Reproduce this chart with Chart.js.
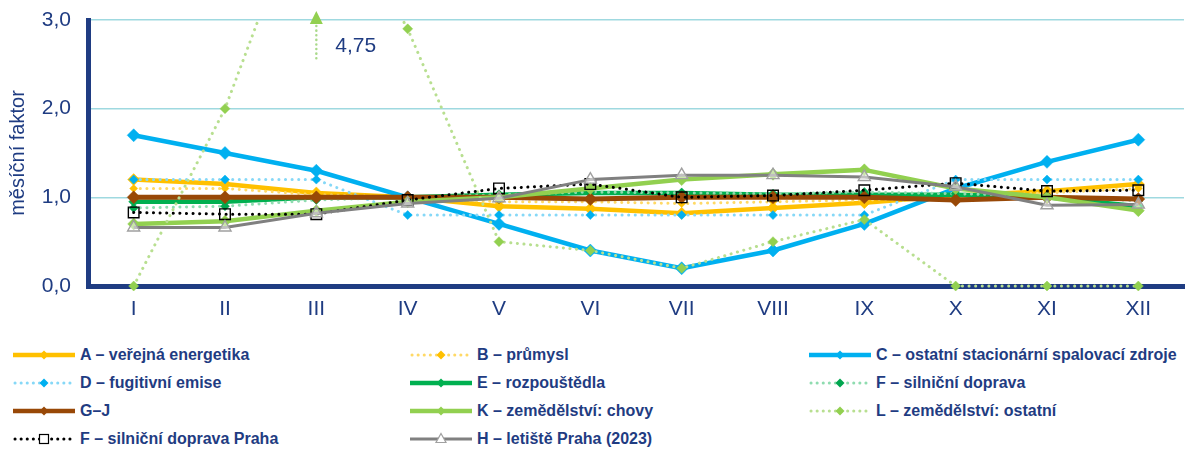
<!DOCTYPE html>
<html>
<head>
<meta charset="utf-8">
<script src="https://cdn.jsdelivr.net/npm/chart.js@4.4.1/dist/chart.umd.min.js"></script>
<style>
  body { margin: 0; background: #fff; font-family: "Liberation Sans", Arial, sans-serif; }
  #wrap { position: relative; width: 1195px; height: 454px; overflow: hidden; }
  #chartBox { position: absolute; left: 0; top: 0; width: 1195px; height: 325px; }
  #legend { position: absolute; left: 0; top: 341px; width: 1195px; height: 113px; }
  .item { position: absolute; height: 28px; display: flex; align-items: center;
          font-weight: bold; font-size: 16px; color: #1f3c82; white-space: nowrap; }
  .item svg { margin-right: 5px; flex: none; }
</style>
</head>
<body>
<div id="wrap">
  <div id="chartBox"><canvas id="monthChart"></canvas></div>
  <div id="legend"></div>
</div>
<script>
// kategorie (měsíce) a osa Y
const months = ['I', 'II', 'III', 'IV', 'V', 'VI', 'VII', 'VIII', 'IX', 'X', 'XI', 'XII'];
const yTicks = [0, 1, 2, 3];

// měsíční faktory jednotlivých sektorů
const seriesA  = [1.20, 1.15, 1.05, 1.00, 0.90, 0.87, 0.82, 0.88, 0.94, 1.02, 1.07, 1.15];
const seriesB  = [1.10, 1.10, 1.03, 1.00, 0.95, 0.95, 0.93, 0.95, 0.97, 1.00, 1.05, 1.10];
const seriesC  = [1.70, 1.50, 1.30, 1.00, 0.70, 0.40, 0.20, 0.40, 0.70, 1.10, 1.40, 1.65];
const seriesD  = [1.20, 1.20, 1.20, 0.80, 0.80, 0.80, 0.80, 0.80, 0.80, 1.20, 1.20, 1.20];
const seriesE  = [0.95, 0.95, 1.00, 1.00, 1.03, 1.05, 1.05, 1.03, 1.03, 1.03, 1.00, 0.90];
const seriesF  = [0.88, 0.90, 0.97, 1.00, 1.03, 1.06, 1.05, 1.04, 1.06, 1.04, 1.02, 0.96];
const seriesGJ = [1.00, 1.00, 1.00, 1.00, 1.00, 0.98, 1.00, 1.00, 1.00, 0.97, 1.00, 0.98];
const seriesK  = [0.70, 0.73, 0.85, 0.95, 1.00, 1.10, 1.20, 1.26, 1.31, 1.10, 1.00, 0.85];
const seriesL  = [0.00, 2.00, 4.75, 2.90, 0.50, 0.40, 0.20, 0.50, 0.75, 0.00, 0.00, 0.00];
const seriesFP = [0.83, 0.81, 0.81, 0.97, 1.10, 1.15, 1.00, 1.02, 1.08, 1.16, 1.07, 1.08];
const seriesH  = [0.66, 0.66, 0.82, 0.93, 0.99, 1.20, 1.25, 1.25, 1.23, 1.12, 0.91, 0.92];

const labels = [
    'A – veřejná energetika', 'B – průmysl', 'C – ostatní stacionární spalovací zdroje',
    'D – fugitivní emise', 'E – rozpouštědla', 'F – silniční doprava',
    'G–J', 'K – zemědělství: chovy', 'L – zemědělství: ostatní',
    'F – silniční doprava Praha', 'H – letiště Praha (2023)'
];
const values = [seriesA, seriesB, seriesC, seriesD, seriesE, seriesF,
                seriesGJ, seriesK, seriesL, seriesFP, seriesH];

const navy = '#1f3c82';
const font = '"Liberation Sans", Arial, sans-serif';

// vzhled řad
const styles = [
    { line: '#ffc000', width: 4.5, dotted: false, shape: 'rectRot', fill: '#ffc000', edge: '#ffc000', r: 6 },
    { line: '#ffd966', width: 3,   dotted: true,  shape: 'rectRot', fill: '#ffc000', edge: '#ffc000', r: 4 },
    { line: '#00b0f0', width: 4.5, dotted: false, shape: 'rectRot', fill: '#00b0f0', edge: '#00b0f0', r: 6.5 },
    { line: '#86d8f7', width: 3,   dotted: true,  shape: 'rectRot', fill: '#00b0f0', edge: '#00b0f0', r: 4.5 },
    { line: '#00b050', width: 4.5, dotted: false, shape: 'rectRot', fill: '#00b050', edge: '#00b050', r: 5 },
    { line: '#8fdcb0', width: 3,   dotted: true,  shape: 'rectRot', fill: '#00a64f', edge: '#00a64f', r: 4.5 },
    { line: '#984807', width: 5,   dotted: false, shape: 'rectRot', fill: '#984807', edge: '#984807', r: 6.5 },
    { line: '#92d050', width: 4.5, dotted: false, shape: 'rectRot', fill: '#92d050', edge: '#92d050', r: 6 },
    { line: '#b8df90', width: 3,   dotted: true,  shape: 'rectRot', fill: '#92d050', edge: '#92d050', r: 5 },
    { line: '#000000', width: 3,   dotted: true,  shape: 'rect',    fill: 'rgba(255,255,255,0)', edge: '#000000', r: 7.5 },
    { line: '#808080', width: 3,   dotted: false, shape: 'triangle', fill: 'rgba(255,255,255,0.5)', edge: '#a0a0a0', r: 7 }
];

const yMax = yTicks[yTicks.length - 1];

const datasets = values.map(function(data, i) {
    const s = styles[i];
    return {
        label: labels[i],
        data: data,
        borderColor: s.line,
        borderWidth: s.width,
        borderDash: s.dotted ? [0.1, 6.5] : [],
        borderCapStyle: s.dotted ? 'round' : 'butt',
        borderJoinStyle: 'round',
        tension: 0,
        pointStyle: s.shape,
        pointRadius: s.r,
        pointBackgroundColor: s.fill,
        pointBorderColor: s.edge,
        pointBorderWidth: s.shape === 'rectRot' ? 0.5 : 1.4,
        order: -i,
        clip: data.some(v => v > yMax) ? { left: 10, top: 1, right: 10, bottom: 10 } : undefined
    };
});

// šipka s hodnotou, která přesahuje osu
const overflowMark = {
    id: 'overflowMark',
    afterDatasetsDraw(chart) {
        const { ctx, chartArea, scales } = chart;
        const i = seriesL.findIndex(v => v > yMax);
        if (i < 0) return;
        const x = scales.x.getPixelForValue(i);
        const top = chartArea.top;
        ctx.save();
        ctx.strokeStyle = '#a9d98a';
        ctx.lineWidth = 2.5;
        ctx.lineCap = 'round';
        ctx.setLineDash([0.1, 4.5]);
        ctx.beginPath();
        ctx.moveTo(x, top + 6);
        ctx.lineTo(x, top + 40);
        ctx.stroke();
        ctx.setLineDash([]);
        ctx.fillStyle = '#92d050';
        ctx.beginPath();
        ctx.moveTo(x, top - 9);
        ctx.lineTo(x + 6.5, top + 4);
        ctx.lineTo(x - 6.5, top + 4);
        ctx.closePath();
        ctx.fill();
        ctx.fillStyle = navy;
        ctx.font = '21px ' + font;
        ctx.textAlign = 'left';
        ctx.textBaseline = 'middle';
        ctx.fillText(seriesL[i].toFixed(2).replace('.', ','), x + 19, top + 26);
        ctx.restore();
    }
};

new Chart(document.getElementById('monthChart'), {
    type: 'line',
    data: { labels: months, datasets: datasets },
    plugins: [overflowMark],
    options: {
        responsive: true,
        maintainAspectRatio: false,
        animation: false,
        layout: { padding: { top: 20, right: 11, left: 0, bottom: 0 } },
        plugins: {
            legend: { display: false },
            tooltip: { enabled: false }
        },
        scales: {
            x: {
                offset: true,
                grid: { display: false, drawTicks: false },
                border: { display: true, color: navy, width: 5 },
                ticks: {
                    color: navy,
                    padding: 11,
                    font: { family: font, size: 21 }
                },
                afterFit: function(scale) {
                    scale.height = 39;
                    scale.paddingLeft = 0;
                    scale.paddingRight = 0;
                }
            },
            y: {
                min: yTicks[0],
                max: yMax,
                afterBuildTicks: function(scale) {
                    scale.ticks = yTicks.map(v => ({ value: v }));
                },
                grid: {
                    drawTicks: false,
                    lineWidth: 1.5,
                    color: function(c) { return c.tick && c.tick.value === 0 ? 'rgba(0,0,0,0)' : '#9fd9e0'; }
                },
                border: { display: true, color: navy, width: 5 },
                ticks: {
                    color: navy,
                    padding: 17,
                    font: { family: font, size: 21 },
                    callback: function(value) { return value.toFixed(1).replace('.', ','); }
                },
                title: {
                    display: true,
                    text: 'měsíční faktor',
                    color: navy,
                    padding: { top: 6, bottom: 0 },
                    font: { family: font, size: 20 }
                },
                afterFit: function(scale) {
                    scale.width = 88;
                    scale.paddingTop = 0;
                    scale.paddingBottom = 0;
                }
            }
        }
    }
});

// legenda ve třech sloupcích
const colLeft = [13, 410, 809];
const rowH = 28;

function markerSvg(s, cx, cy) {
    if (s.shape === 'rect') {
        return '<rect x="' + (cx - 4.5) + '" y="' + (cy - 4.5) + '" width="9" height="9" fill="#fff" stroke="#000" stroke-width="1.2"/>';
    }
    if (s.shape === 'triangle') {
        return '<polygon points="' + cx + ',' + (cy - 5.5) + ' ' + (cx + 5) + ',' + (cy + 3.5) + ' ' + (cx - 5) + ',' + (cy + 3.5) +
               '" fill="#fff" stroke="' + s.edge + '" stroke-width="1.2"/>';
    }
    const d = 4.5;
    return '<polygon points="' + cx + ',' + (cy - d) + ' ' + (cx + d) + ',' + cy + ' ' + cx + ',' + (cy + d) + ' ' + (cx - d) + ',' + cy +
           '" fill="' + s.fill + '"/>';
}

const legendEl = document.getElementById('legend');
labels.forEach(function(text, i) {
    const s = styles[i];
    const item = document.createElement('div');
    item.className = 'item';
    item.style.left = colLeft[i % 3] + 'px';
    item.style.top = (Math.floor(i / 3) * rowH) + 'px';
    const dash = s.dotted ? ' stroke-dasharray="0.1 6" stroke-linecap="round"' : '';
    const w = s.dotted ? 3 : Math.min(s.width, 4.5);
    item.innerHTML = '<svg width="62" height="14" viewBox="0 0 62 14">' +
        '<line x1="' + (s.dotted ? 2 : 0) + '" y1="7" x2="62" y2="7" stroke="' + s.line + '" stroke-width="' + w + '"' + dash + '/>' +
        markerSvg(s, 31, 7) + '</svg><span>' + text + '</span>';
    legendEl.appendChild(item);
});
</script>
</body>
</html>
